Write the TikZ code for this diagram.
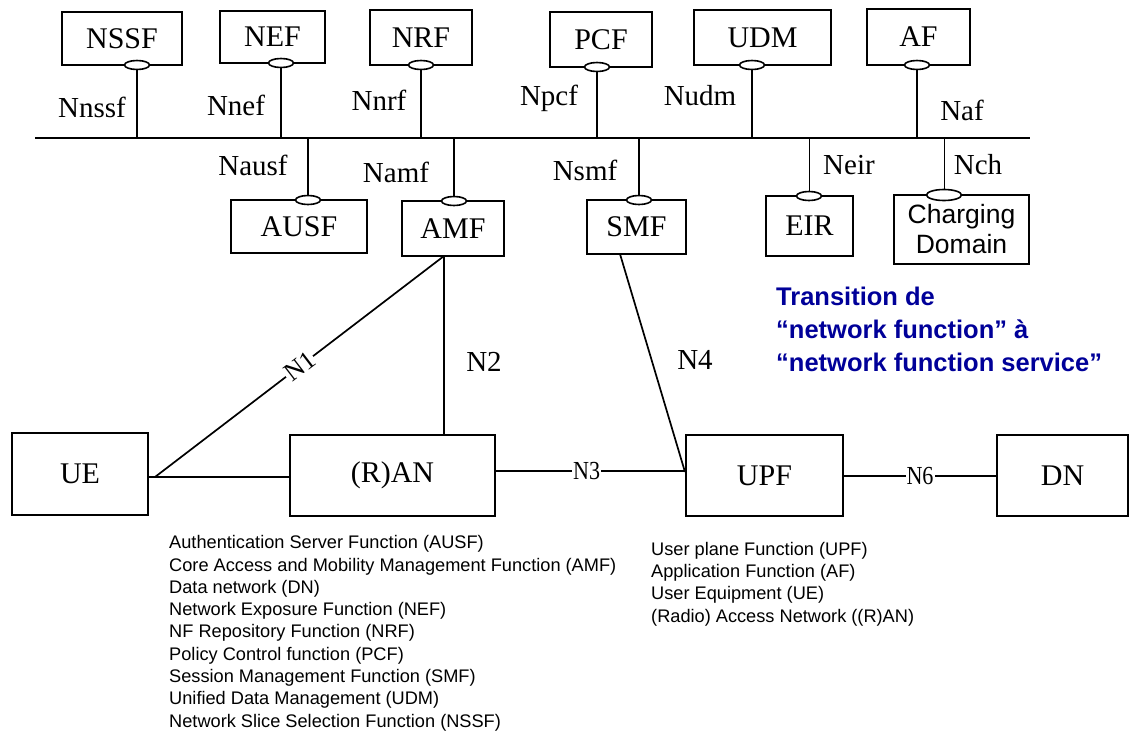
\documentclass[tikz,border=0pt]{standalone}
\usepackage{fontspec}
\setmainfont{Liberation Serif}
\newfontfamily\arialf{Liberation Sans}
\usetikzlibrary{shapes.geometric}
\definecolor{navyblue}{RGB}{0,0,153}
\begin{document}
\begin{tikzpicture}[x=1pt,y=-1pt,
  nf/.style={draw, line width=1.7pt, inner sep=0pt, font=\fontsize{30}{32}\selectfont},
  port/.style={ellipse, draw, fill=white, line width=1.6pt, minimum width=25pt, minimum height=9pt, inner sep=0pt},
  lnk/.style={line width=1.7pt},
  thinlink/.style={line width=0.7pt},
  lbl/.style={font=\fontsize{29}{32}\selectfont, inner sep=0pt},
  ilbl/.style={font=\fontsize{26}{28}\selectfont, fill=white, inner sep=1pt},
  leg/.style={font=\arialf\fontsize{18.2}{20}\selectfont, anchor=base west, inner sep=0pt},
  trans/.style={font=\arialf\bfseries\fontsize{25.5}{30}\selectfont, text=navyblue, anchor=base west, inner sep=0pt}
]
\fill[white] (0,0) rectangle (1133,731);
\useasboundingbox (0,0) rectangle (1133,731);

% bus
\coordinate (busL) at (35,138);
\coordinate (busR) at (1030,138);
\draw[lnk] (busL) -- (busR);

% top row
\node[nf, minimum width=120pt, minimum height=53pt] (nssf) at (122,38.5) {NSSF};
\node[nf, minimum width=105pt, minimum height=52pt] (nef) at (272.5,37) {NEF};
\node[nf, minimum width=102pt, minimum height=55pt] (nrf) at (421,37.5) {NRF};
\node[nf, minimum width=102pt, minimum height=55pt] (pcf) at (601,39.5) {PCF};
\node[nf, minimum width=137pt, minimum height=55pt] (udm) at (762.5,37.5) {UDM};
\node[nf, minimum width=103pt, minimum height=56pt] (af) at (918.5,37) {AF};

\node[port] (pnssf) at (137,65) {};
\node[port] (pnef) at (281,63) {};
\node[port] (pnrf) at (421,65) {};
\node[port] (ppcf) at (597,67) {};
\node[port] (pudm) at (752,65) {};
\node[port] (paf) at (917,65) {};

\foreach \p in {pnssf,pnef,pnrf,ppcf,pudm,paf}
  \draw[lnk] (\p.south) -- (\p |- busL);

\node[lbl] (lnssf) at (92,107) {Nnssf};
\node[lbl] (lnef) at (236,105) {Nnef};
\node[lbl] (lnrf) at (379,100) {Nnrf};
\node[lbl] (lpcf) at (549,98) {Npcf};
\node[lbl] (ludm) at (700,96) {Nudm};
\node[lbl] (laf) at (962,110) {Naf};

% second row
\node[nf, minimum width=136pt, minimum height=53pt] (ausf) at (299,226.5) {AUSF};
\node[nf, minimum width=102pt, minimum height=55pt] (amf) at (453,228.5) {AMF};
\node[nf, minimum width=99pt, minimum height=54pt] (smf) at (636.5,227) {SMF};
\node[nf, minimum width=87pt, minimum height=60pt] (eir) at (809.5,226) {EIR};
\node[nf, minimum width=135pt, minimum height=69pt, align=center, font=\arialf\fontsize{26.5}{30}\selectfont] (chg) at (961.5,229.5) {Charging\\Domain};

\node[port] (pausf) at (308,200) {};
\node[port] (pamf) at (454,201) {};
\node[port] (psmf) at (639,200) {};
\node[port] (peir) at (809,196) {};
\node[port, minimum width=35pt, minimum height=11pt] (pchg) at (944,195) {};

\foreach \p in {pausf,pamf,psmf}
  \draw[lnk] (\p |- busL) -- (\p.north);
\draw[thinlink] (peir |- busL) -- (peir.north);
\draw[thinlink] (pchg |- busL) -- (pchg.north);

\node[lbl] (lausf) at (253,165) {Nausf};
\node[lbl] (lamf) at (396,172) {Namf};
\node[lbl] (lsmf) at (585,170) {Nsmf};
\node[lbl] (leir) at (849,165) {Neir};
\node[lbl] (lch) at (978,165) {Nch};

% bottom row
\node[nf, minimum width=136pt, minimum height=82pt] (ue) at (80,474) {UE};
\node[nf, minimum width=205pt, minimum height=81pt] (ran) at (392.5,475.5) {(R)AN};
\node[nf, minimum width=157pt, minimum height=81pt] (upf) at (764.5,475.5) {UPF};
\node[nf, minimum width=131pt, minimum height=81pt] (dn) at (1062.5,475.5) {DN};

\coordinate (j1) at (155,477);
\coordinate (amfb) at (444,256);
\coordinate (smfb) at (620,254);
\coordinate (upfn) at (685,472);

\draw[lnk] (ue.east |- j1) -- (ran.west |- j1);
\draw[lnk] (j1) -- node[ilbl, sloped] {N1} (amfb);
\draw[lnk] (amfb) -- (amfb |- ran.north);
\draw[lnk] ([yshift=4.5pt]ran.east) -- node[ilbl, pos=0.48] {\scalebox{0.85}[1]{N3}} ([yshift=4.5pt]ran.east -| upf.west);
\draw[lnk] (smfb) -- (upfn);
\draw[lnk] ([yshift=-0.5pt]upf.east) -- node[ilbl] {\scalebox{0.85}[1]{N6}} ([yshift=-0.5pt]upf.east -| dn.west);

\node[lbl] (ln2) at (484,362) {N2};
\node[lbl] (ln4) at (695,360) {N4};

% blue text
\node[trans] (t1) at (776,305) {Transition de};
\node[trans] (t2) at (776,338) {“network function” à};
\node[trans] (t3) at (776,371) {“network function service”};

% legends
\foreach \t [count=\i from 0] in {Authentication Server Function (AUSF),
  Core Access and Mobility Management Function (AMF),
  Data network (DN),
  Network Exposure Function (NEF),
  NF Repository Function (NRF),
  Policy Control function (PCF),
  Session Management Function (SMF),
  Unified Data Management (UDM),
  Network Slice Selection Function (NSSF)}
  \node[leg] (lega\i) at (169,{548.7+22.3*\i}) {\t};

\foreach \t [count=\i from 0] in {User plane Function (UPF),
  Application Function (AF),
  User Equipment (UE),
  (Radio) Access Network ((R)AN)}
  \node[leg] (legb\i) at (651,{555+22.4*\i}) {\t};
\end{tikzpicture}
\end{document}
